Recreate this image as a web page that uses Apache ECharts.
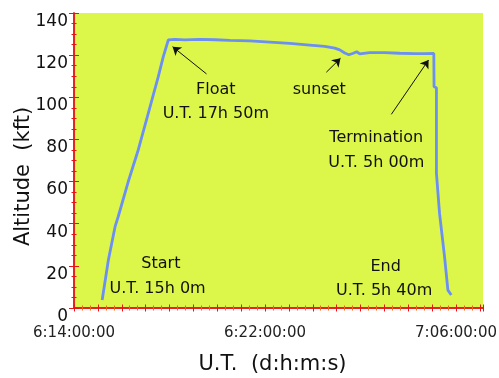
<!DOCTYPE html>
<html>
<head>
<meta charset="utf-8">
<script src="https://cdn.jsdelivr.net/npm/echarts@6/dist/echarts.min.js"></script>
<style>
  html, body { margin: 0; padding: 0; background: #ffffff; }
  #chart { width: 499px; height: 378px; }
</style>
</head>
<body>
<div id="chart"></div>
<script>
// Hours elapsed since 6:14:00:00 (d:h:m:s)
var hours = [1.18, 1.44, 1.72, 1.85, 2.27, 2.69, 3.11, 3.53, 3.74, 3.95,
             4.23, 4.64, 5.27, 5.90, 6.53, 7.36, 8.20, 9.04, 9.87, 10.50,
             10.92, 11.13, 11.34, 11.51, 11.67, 11.84, 11.97, 12.38, 13.01, 13.64,
             14.27, 14.69, 15.07, 15.08, 15.18, 15.18, 15.31, 15.52, 15.66, 15.80];
// Altitude in kft
var altitude = [3.8, 22.8, 38.6, 43.3, 59.9, 75.0, 92.4, 109.8, 119.3, 127.2,
                127.5, 127.2, 127.5, 127.3, 127.0, 126.8, 126.2, 125.6, 124.8, 124.2,
                123.3, 122.5, 121.0, 120.2, 120.8, 121.6, 120.6, 121.2, 121.2, 120.9,
                120.7, 120.7, 120.8, 105.0, 104.5, 63.9, 44.9, 24.3, 8.5, 6.2];
var xTickValues = [0, 8, 16];
var xTickLabels = ['6:14:00:00', '6:22:00:00', '7:06:00:00'];
var yTickValues = [0, 20, 40, 60, 80, 100, 120, 140];

// Annotation texts: [text, hours, altitude]
var notes = [
  ['Float', 5.94, 103.5],
  ['U.T. 17h 50m', 5.94, 92.1],
  ['sunset', 10.27, 103.5],
  ['Termination', 12.66, 80.8],
  ['U.T. 5h 00m', 12.66, 68.7],
  ['Start', 3.64, 20.9],
  ['U.T. 15h 0m', 3.50, 9.0],
  ['End', 13.05, 19.3],
  ['U.T. 5h 40m', 12.99, 8.2]
];
// Arrows: [fromH, fromAlt, toH, toAlt]
var arrows = [
  [5.55, 111.1, 4.13, 124.0],
  [10.57, 111.9, 11.16, 118.5],
  [13.29, 91.9, 14.85, 117.7]
];

var FONT = 'DejaVu Sans';
var RED = '#e8141a';
var data = hours.map(function (h, i) { return [h, altitude[i]]; });

var chart = echarts.init(document.getElementById('chart'), null, { renderer: 'canvas' });

function xFmt(v) {
  var i = xTickValues.indexOf(Math.round(v * 1000) / 1000);
  return i >= 0 ? xTickLabels[i] : '';
}
function yFmt(v) {
  return yTickValues.indexOf(v) >= 0 ? String(v) : '';
}

var axisCommon = {
  axisLine: { show: true, lineStyle: { color: RED, width: 1.5 } },
  splitLine: { show: false }
};

chart.setOption({
  animation: false,
  backgroundColor: '#ffffff',
  grid: {
    left: 74, top: 13, right: 16, bottom: 70,
    containLabel: false, outerBoundsMode: 'none',
    show: true, backgroundColor: '#ddf64a', borderWidth: 0
  },
  xAxis: [
    Object.assign({}, axisCommon, {
      type: 'value', min: 0, max: 17.13, interval: 1, position: 'bottom',
      name: 'U.T.  (d:h:m:s)', nameLocation: 'middle', nameGap: 46, nameMoveOverlap: false,
      nameTextStyle: { fontFamily: FONT, fontSize: 21, color: '#111', padding: [0, 12, 0, 0] },
      axisTick: { show: true, inside: true, length: 3.5, lineStyle: { color: RED } },
      minorTick: { show: true, splitNumber: 3, length: 2.5, lineStyle: { color: '#e86a1c' } },
      axisLabel: { fontFamily: FONT, fontSize: 15, color: '#222', margin: 18, formatter: xFmt, showMaxLabel: false }
    }),
    Object.assign({}, axisCommon, {
      type: 'value', min: 0, max: 17.13, interval: 1, position: 'top',
      axisTick: { show: true, inside: true, length: 3.5, lineStyle: { color: RED } },
      minorTick: { show: true, splitNumber: 3, length: 2.5, lineStyle: { color: '#e86a1c' } },
      axisLabel: { show: false }
    })
  ],
  yAxis: [
    Object.assign({}, axisCommon, {
      type: 'value', min: 0, max: 140, interval: 20, position: 'left',
      name: 'Altitude  (kft)', nameLocation: 'middle', nameGap: 40, nameRotate: 90, nameMoveOverlap: false,
      nameTextStyle: { fontFamily: FONT, fontSize: 21, color: '#111', padding: [0, 32, 0, 0] },
      axisTick: { show: true, inside: true, length: 5, lineStyle: { color: RED } },
      minorTick: { show: true, splitNumber: 4, length: 2.5, lineStyle: { color: RED } },
      axisLabel: { fontFamily: FONT, fontSize: 17, color: '#111', margin: 6, verticalAlign: 'top', formatter: yFmt }
    }),
    Object.assign({}, axisCommon, {
      type: 'value', min: 0, max: 140, interval: 20, position: 'right',
      axisTick: { show: true, inside: true, length: 5, lineStyle: { color: RED } },
      minorTick: { show: true, splitNumber: 4, length: 2.5, lineStyle: { color: RED } },
      axisLabel: { show: false }
    })
  ],
  series: [{
    type: 'line',
    xAxisIndex: 0, yAxisIndex: 0,
    data: data,
    showSymbol: false,
    symbol: 'none',
    lineStyle: { color: '#6b8ff2', width: 2.8 },
    z: 3,
    markPoint: {
      symbol: 'circle', symbolSize: 0,
      label: { show: true, position: 'inside', fontFamily: FONT, fontSize: 16, color: '#111',
               formatter: function (p) { return p.name; } },
      data: notes.map(function (n) { return { name: n[0], coord: [n[1], n[2]] }; })
    },
    markLine: {
      silent: true,
      symbol: ['none', 'arrow'],
      symbolSize: 8,
      label: { show: false },
      lineStyle: { color: '#111', width: 1, type: 'solid' },
      itemStyle: { color: '#111' },
      emphasis: { disabled: true },
      data: arrows.map(function (a) {
        return [{ coord: [a[0], a[1]], symbol: 'none' }, { coord: [a[2], a[3]], symbol: 'arrow', symbolSize: 8 }];
      })
    }
  }]
});
</script>
</body>
</html>
